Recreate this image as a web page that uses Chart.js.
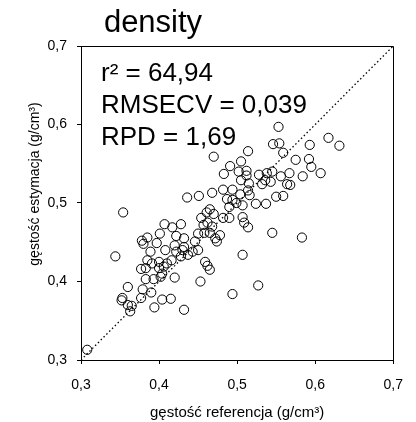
<!DOCTYPE html>
<html>
<head>
<meta charset="utf-8">
<script src="https://cdn.jsdelivr.net/npm/chart.js@4.4.1/dist/chart.umd.min.js"></script>
<style>
  html, body { margin: 0; padding: 0; background: #ffffff; }
  #wrap { width: 416px; height: 422px; position: relative; }
</style>
</head>
<body>
<div id="wrap"><canvas id="c" width="416" height="422"></canvas></div>
<script>
// ---- data ----
const chartTitle = "density";
const xAxisTitle = "gęstość referencja (g/cm³)";
const yAxisTitle = "gęstość estymacja (g/cm³)";
const statLines = ["r² = 64,94", "RMSECV = 0,039", "RPD = 1,69"];
const tickValues = [0.3, 0.4, 0.5, 0.6, 0.7];
const tickLabels = ["0,3", "0,4", "0,5", "0,6", "0,7"];
const lineX = [0.3, 0.7];
const lineY = [0.3, 0.7];

const refX = [
  0.470, 0.491, 0.483, 0.505, 0.502, 0.505, 0.436, 0.451, 0.468, 0.482,
  0.494, 0.553, 0.546, 0.554, 0.559, 0.514, 0.593, 0.617, 0.631, 0.575,
  0.592, 0.595, 0.607, 0.584, 0.512, 0.512, 0.528, 0.538, 0.545, 0.556,
  0.567, 0.564, 0.568, 0.532, 0.543, 0.536, 0.515, 0.514, 0.504, 0.516,
  0.550, 0.559, 0.487, 0.494, 0.499, 0.507, 0.524, 0.537, 0.490, 0.465,
  0.461, 0.470, 0.454, 0.482, 0.490, 0.507, 0.509, 0.514, 0.462, 0.468,
  0.457, 0.450, 0.458, 0.465, 0.478, 0.472, 0.474, 0.446, 0.450, 0.443,
  0.545, 0.583, 0.507, 0.459, 0.462, 0.465, 0.354, 0.407, 0.417, 0.428,
  0.401, 0.422, 0.432, 0.385, 0.378, 0.380, 0.397, 0.420, 0.432, 0.389,
  0.408, 0.422, 0.430, 0.437, 0.428, 0.385, 0.400, 0.391, 0.410, 0.416,
  0.377, 0.383, 0.400, 0.406, 0.404, 0.383, 0.393, 0.402, 0.420, 0.360,
  0.379, 0.390, 0.353, 0.352, 0.377, 0.404, 0.415, 0.360, 0.365, 0.363,
  0.394, 0.432, 0.453, 0.494, 0.527, 0.308, 0.344
];
const estY = [
  0.559, 0.547, 0.537, 0.553, 0.540, 0.529, 0.507, 0.509, 0.513, 0.517,
  0.517, 0.597, 0.575, 0.576, 0.564, 0.566, 0.574, 0.583, 0.573, 0.555,
  0.556, 0.546, 0.538, 0.534, 0.541, 0.535, 0.536, 0.538, 0.540, 0.534,
  0.538, 0.524, 0.523, 0.524, 0.527, 0.529, 0.525, 0.516, 0.511, 0.510,
  0.508, 0.509, 0.505, 0.504, 0.500, 0.497, 0.499, 0.499, 0.495, 0.492,
  0.488, 0.486, 0.481, 0.481, 0.481, 0.482, 0.475, 0.469, 0.475, 0.470,
  0.472, 0.461, 0.462, 0.462, 0.459, 0.455, 0.451, 0.451, 0.440, 0.438,
  0.462, 0.456, 0.434, 0.425, 0.420, 0.415, 0.488, 0.473, 0.469, 0.473,
  0.461, 0.458, 0.455, 0.456, 0.452, 0.448, 0.449, 0.446, 0.444, 0.438,
  0.440, 0.438, 0.440, 0.434, 0.432, 0.427, 0.425, 0.423, 0.423, 0.427,
  0.416, 0.417, 0.417, 0.419, 0.410, 0.403, 0.403, 0.406, 0.405, 0.393,
  0.390, 0.386, 0.379, 0.376, 0.379, 0.377, 0.378, 0.370, 0.369, 0.362,
  0.367, 0.364, 0.400, 0.384, 0.395, 0.313, 0.432
];

const FONT = "'Liberation Sans', Arial, Helvetica, sans-serif";

const points = refX.map((x, i) => ({ x: x, y: estY[i] }));
const diag = lineX.map((x, i) => ({ x: x, y: lineY[i] }));

const decorPlugin = {
  id: 'decor',
  afterDatasetsDraw(chart) {
    const { ctx, chartArea: a } = chart;
    ctx.save();
    // frame on the top and right sides (left/bottom are the axis borders)
    ctx.strokeStyle = '#000';
    ctx.lineWidth = 1;
    ctx.beginPath();
    ctx.moveTo(Math.floor(a.left) + 0.5, Math.floor(a.top) + 0.5);
    ctx.lineTo(Math.floor(a.right) + 0.5, Math.floor(a.top) + 0.5);
    ctx.lineTo(Math.floor(a.right) + 0.5, Math.floor(a.bottom) + 0.5);
    ctx.stroke();
    // statistics text
    ctx.fillStyle = '#000';
    ctx.font = "26px " + FONT;
    ctx.textAlign = 'left';
    ctx.textBaseline = 'alphabetic';
    statLines.forEach((s, i) => {
      ctx.fillText(s, a.left + 20, a.top + 35 + i * 32);
    });
    ctx.restore();
  },
  afterDraw(chart) {
    const { ctx } = chart;
    ctx.save();
    ctx.fillStyle = '#000';
    // chart title
    ctx.font = "31px " + FONT;
    ctx.textAlign = 'center';
    ctx.textBaseline = 'alphabetic';
    ctx.fillText(chartTitle, 153, 32);
    // y axis title
    ctx.font = "14px " + FONT;
    ctx.translate(35, 184);
    ctx.rotate(-Math.PI / 2);
    ctx.textBaseline = 'middle';
    ctx.fillText(yAxisTitle, 0, 0);
    ctx.restore();
  }
};

new Chart(document.getElementById('c'), {
  type: 'scatter',
  data: {
    datasets: [
      {
        type: 'line',
        data: diag,
        borderColor: '#000',
        borderWidth: 1.3,
        borderDash: [1.5, 2.5],
        pointRadius: 0,
        fill: false
      },
      {
        type: 'scatter',
        data: points,
        pointRadius: 4.6,
        pointHoverRadius: 4.6,
        borderColor: '#000',
        borderWidth: 1,
        backgroundColor: 'rgba(0,0,0,0)'
      }
    ]
  },
  options: {
    responsive: false,
    animation: false,
    events: [],
    layout: { padding: { top: 46, right: 11, left: 0, bottom: 0 } },
    plugins: {
      legend: { display: false },
      tooltip: { enabled: false },
      title: { display: false }
    },
    scales: {
      x: {
        type: 'linear',
        min: 0.3,
        max: 0.7,
        afterFit(s) { s.height = 62; },
        afterBuildTicks(s) { s.ticks = tickValues.map(v => ({ value: v })); },
        ticks: {
          color: '#000',
          font: { family: FONT, size: 14 },
          padding: 13,
          maxRotation: 0,
          callback: (v) => tickLabels[tickValues.findIndex(t => Math.abs(t - v) < 1e-6)]
        },
        grid: { display: true, drawOnChartArea: false, drawTicks: true, tickLength: 4, color: '#000' },
        border: { display: true, color: '#000', width: 1 },
        title: {
          display: true,
          text: xAxisTitle,
          color: '#000',
          font: { family: FONT, size: 15 },
          padding: { top: 0, bottom: 0 }
        }
      },
      y: {
        type: 'linear',
        min: 0.3,
        max: 0.7,
        afterFit(s) { s.width = 81; },
        afterBuildTicks(s) { s.ticks = tickValues.map(v => ({ value: v })); },
        ticks: {
          color: '#000',
          font: { family: FONT, size: 14 },
          padding: 10,
          callback: (v) => tickLabels[tickValues.findIndex(t => Math.abs(t - v) < 1e-6)]
        },
        grid: { display: true, drawOnChartArea: false, drawTicks: true, tickLength: 4, color: '#000' },
        border: { display: true, color: '#000', width: 1 }
      }
    }
  },
  plugins: [decorPlugin]
});
</script>
</body>
</html>
